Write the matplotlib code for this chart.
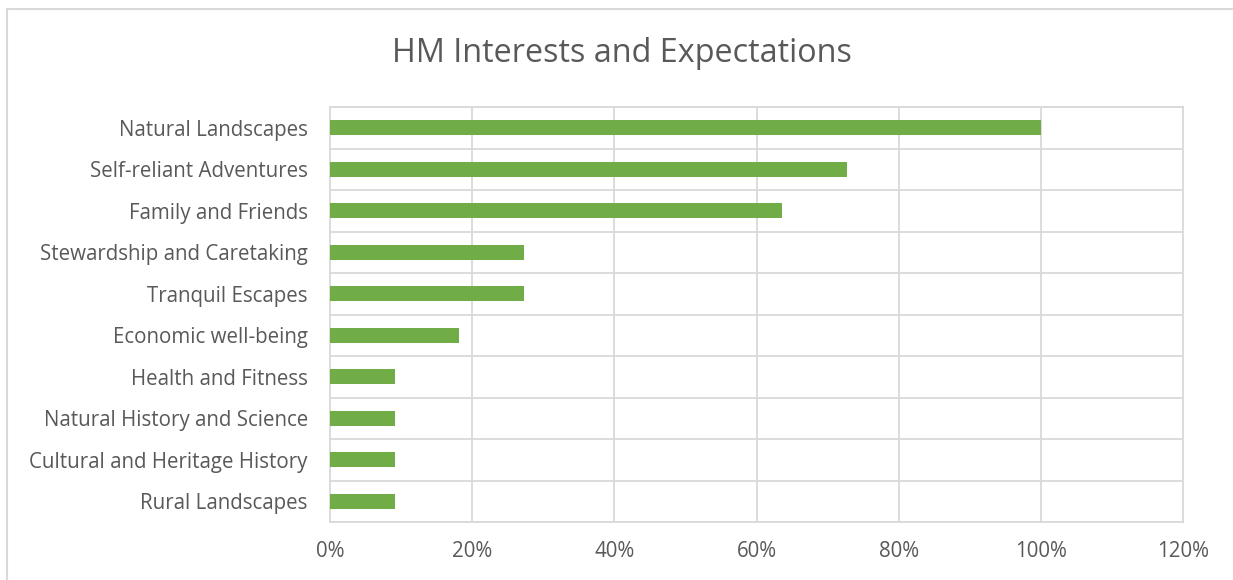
import matplotlib
matplotlib.use("Agg")
import matplotlib.pyplot as plt
from matplotlib.patches import Rectangle
from matplotlib.ticker import FuncFormatter, MultipleLocator

categories = [
    "Natural Landscapes",
    "Self-reliant Adventures",
    "Family and Friends",
    "Stewardship and Caretaking",
    "Tranquil Escapes",
    "Economic well-being",
    "Health and Fitness",
    "Natural History and Science",
    "Cultural and Heritage History",
    "Rural Landscapes",
]
shares = [1.0, 0.727, 0.636, 0.273, 0.273, 0.182, 0.091, 0.091, 0.091, 0.091]

W, H = 1233, 580
plt.rcParams["font.family"] = ["Open Sans", "DejaVu Sans"]
text_color = "#595959"
grid_color = "#d9d9d9"

fig = plt.figure(figsize=(W / 100, H / 100), dpi=100)
fig.patch.set_facecolor("white")

# outer chart frame
fig.patches.append(Rectangle((7 / W, -0.05), 1.1, 1 - 9 / H + 0.05,
                             transform=fig.transFigure, fill=False,
                             edgecolor=grid_color, linewidth=1.5))

left, right, top, bottom = 330 / W, 1183 / W, 1 - 107 / H, 1 - 522 / H
ax = fig.add_axes([left, bottom, right - left, top - bottom])

n = len(categories)
ypos = list(range(n))
ax.barh(ypos, shares, height=0.35, color="#70AD47", zorder=3)
ax.set_ylim(n - 0.5, -0.5)
ax.set_xlim(0, 1.2)

ax.set_yticks(ypos)
ax.set_yticklabels(categories)
ax.xaxis.set_major_locator(MultipleLocator(0.2))
ax.xaxis.set_major_formatter(FuncFormatter(lambda v, p: f"{v * 100:.0f}%"))

# gridlines: vertical at each tick, horizontal between categories
for xv in [0.2, 0.4, 0.6, 0.8, 1.0]:
    ax.axvline(xv, color=grid_color, linewidth=1.3, zorder=1)
for k in range(n + 1):
    ax.axhline(k - 0.5, color=grid_color, linewidth=1.3, zorder=1)

for s in ax.spines.values():
    s.set_color(grid_color)
    s.set_linewidth(1.3)

ax.tick_params(axis="both", length=0, colors=text_color, labelsize=14.8)
ax.tick_params(axis="y", pad=16)
ax.tick_params(axis="x", pad=14)

fig.text(622 / W, 1 - 53 / H, "HM Interests and Expectations",
         ha="center", va="center", fontsize=23.3, color=text_color)

fig.savefig("out.png", dpi=100, facecolor="white")
